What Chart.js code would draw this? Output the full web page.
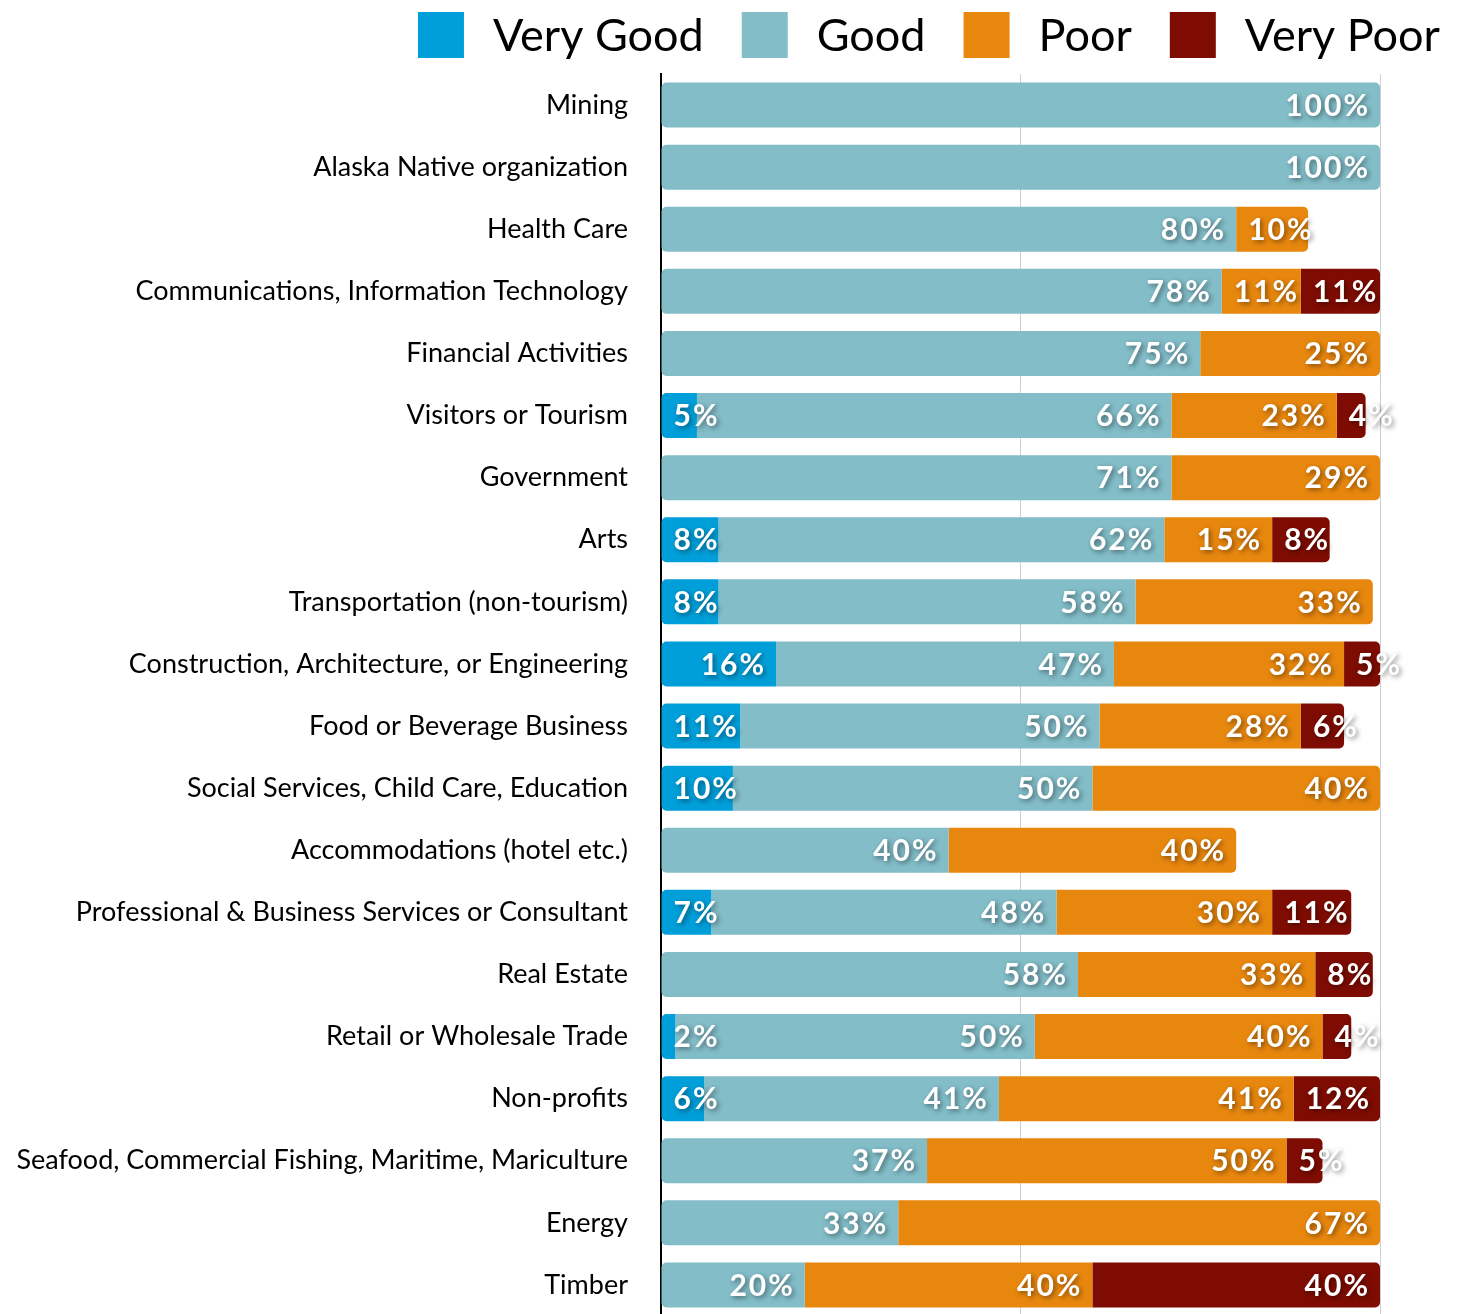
<!DOCTYPE html>
<html>
<head>
<meta charset="utf-8">
<script src="https://cdn.jsdelivr.net/npm/chart.js@4.4.1/dist/chart.umd.min.js"></script>
<style>
  html, body { margin: 0; padding: 0; background: #fff; overflow: hidden; }
  #wrap { width: 1459px; height: 1318px; }
</style>
</head>
<body>
<div id="wrap"><canvas id="chart" width="1459" height="1318"></canvas></div>
<script>
const CATEGORIES = [
  "Mining",
  "Alaska Native organization",
  "Health Care",
  "Communications, Information Technology",
  "Financial Activities",
  "Visitors or Tourism",
  "Government",
  "Arts",
  "Transportation (non-tourism)",
  "Construction, Architecture, or Engineering",
  "Food or Beverage Business",
  "Social Services, Child Care, Education",
  "Accommodations (hotel etc.)",
  "Professional & Business Services or Consultant",
  "Real Estate",
  "Retail or Wholesale Trade",
  "Non-profits",
  "Seafood, Commercial Fishing, Maritime, Mariculture",
  "Energy",
  "Timber"
];
const SERIES_NAMES = ["Very Good", "Good", "Poor", "Very Poor"];
const VERY_GOOD = [0, 0, 0, 0, 0, 5, 0, 8, 8, 16, 11, 10, 0, 7, 0, 2, 6, 0, 0, 0];
const GOOD      = [100, 100, 80, 78, 75, 66, 71, 62, 58, 47, 50, 50, 40, 48, 58, 50, 41, 37, 33, 20];
const POOR      = [0, 0, 10, 11, 25, 23, 29, 15, 33, 32, 28, 40, 40, 30, 33, 40, 41, 50, 67, 40];
const VERY_POOR = [0, 0, 0, 11, 0, 4, 0, 8, 0, 5, 6, 0, 0, 11, 8, 4, 12, 5, 0, 40];
const X_TICKS = [0, 50, 100];

const COLORS = ["#009fd9", "#82bdc8", "#e8870e", "#7f0c02"];
const ALL_VALUES = [VERY_GOOD, GOOD, POOR, VERY_POOR];

// round only the outer ends of each stacked row
function cornerRadius(ctx) {
  const i = ctx.dataIndex, d = ctx.datasetIndex;
  if (i === undefined) return 0;
  const row = ALL_VALUES.map(s => s[i]);
  const first = row.findIndex(v => v > 0);
  let last = -1;
  row.forEach((v, k) => { if (v > 0) last = k; });
  const r = 5;
  return {
    topLeft: d === first ? r : 0,
    bottomLeft: d === first ? r : 0,
    topRight: d === last ? r : 0,
    bottomRight: d === last ? r : 0
  };
}

// white % labels at the inner end of each segment
const barLabels = {
  id: 'barLabels',
  afterDatasetsDraw(chart) {
    const ctx = chart.ctx;
    ctx.save();
    ctx.font = 'bold 30px Lato';
    ctx.letterSpacing = '2px';
    ctx.fillStyle = '#fff';
    ctx.textAlign = 'right';
    ctx.textBaseline = 'middle';
    ctx.shadowColor = 'rgba(0,0,0,0.45)';
    ctx.shadowBlur = 5;
    ctx.shadowOffsetX = 2;
    ctx.shadowOffsetY = 2;
    chart.data.datasets.forEach((ds, d) => {
      chart.getDatasetMeta(d).data.forEach((bar, i) => {
        const v = ds.data[i];
        if (!v) return;
        const text = v + '%';
        const w = ctx.measureText(text).width;
        const x = Math.max(bar.x - 10, bar.base + 12 + w);
        ctx.fillText(text, x, bar.y + 1);
      });
    });
    ctx.restore();
  }
};

// legend drawn in the top right corner
const topLegend = {
  id: 'topLegend',
  afterDraw(chart) {
    const ctx = chart.ctx;
    ctx.save();
    ctx.font = '45px Lato';
    ctx.textBaseline = 'middle';
    ctx.textAlign = 'left';
    let x = 1440;
    const box = 46, gap = 29, spacing = 38, top = 12;
    for (let k = SERIES_NAMES.length - 1; k >= 0; k--) {
      const w = ctx.measureText(SERIES_NAMES[k]).width;
      x -= w;
      ctx.fillStyle = '#000';
      ctx.fillText(SERIES_NAMES[k], x, top + box / 2 + 1);
      x -= gap + box;
      ctx.fillStyle = COLORS[k];
      ctx.fillRect(x, top, box, box);
      x -= spacing;
    }
    ctx.restore();
  }
};

const datasets = ALL_VALUES.map((vals, k) => ({
  label: SERIES_NAMES[k],
  data: vals,
  backgroundColor: COLORS[k],
  borderWidth: 0,
  borderSkipped: false,
  borderRadius: cornerRadius,
  barPercentage: 0.725,
  categoryPercentage: 1
}));

new Chart(document.getElementById('chart'), {
  type: 'bar',
  data: { labels: CATEGORIES, datasets: datasets },
  options: {
    responsive: false,
    animation: false,
    indexAxis: 'y',
    layout: { padding: { top: 74, right: 79, bottom: 2, left: 0 } },
    plugins: {
      legend: { display: false },
      tooltip: { enabled: false }
    },
    scales: {
      x: {
        stacked: true,
        min: 0,
        max: 100,
        afterBuildTicks: scale => { scale.ticks = X_TICKS.map(v => ({ value: v })); },
        afterFit: scale => { scale.height = 0; },
        ticks: { display: false },
        border: { display: false },
        grid: {
          drawTicks: false,
          lineWidth: 1,
          color: ctx => ctx.tick && ctx.tick.value === 0 ? 'rgba(0,0,0,0)' : '#cfcfcf'
        }
      },
      y: {
        stacked: true,
        afterFit: scale => { scale.width = 661; scale.paddingTop = 0; scale.paddingBottom = 0; },
        grid: { display: false, drawTicks: false },
        border: { display: true, color: '#000', width: 2 },
        ticks: {
          padding: 33,
          color: '#000',
          font: { family: 'Lato', size: 27 }
        }
      }
    }
  },
  plugins: [barLabels, topLegend]
});
</script>
</body>
</html>
